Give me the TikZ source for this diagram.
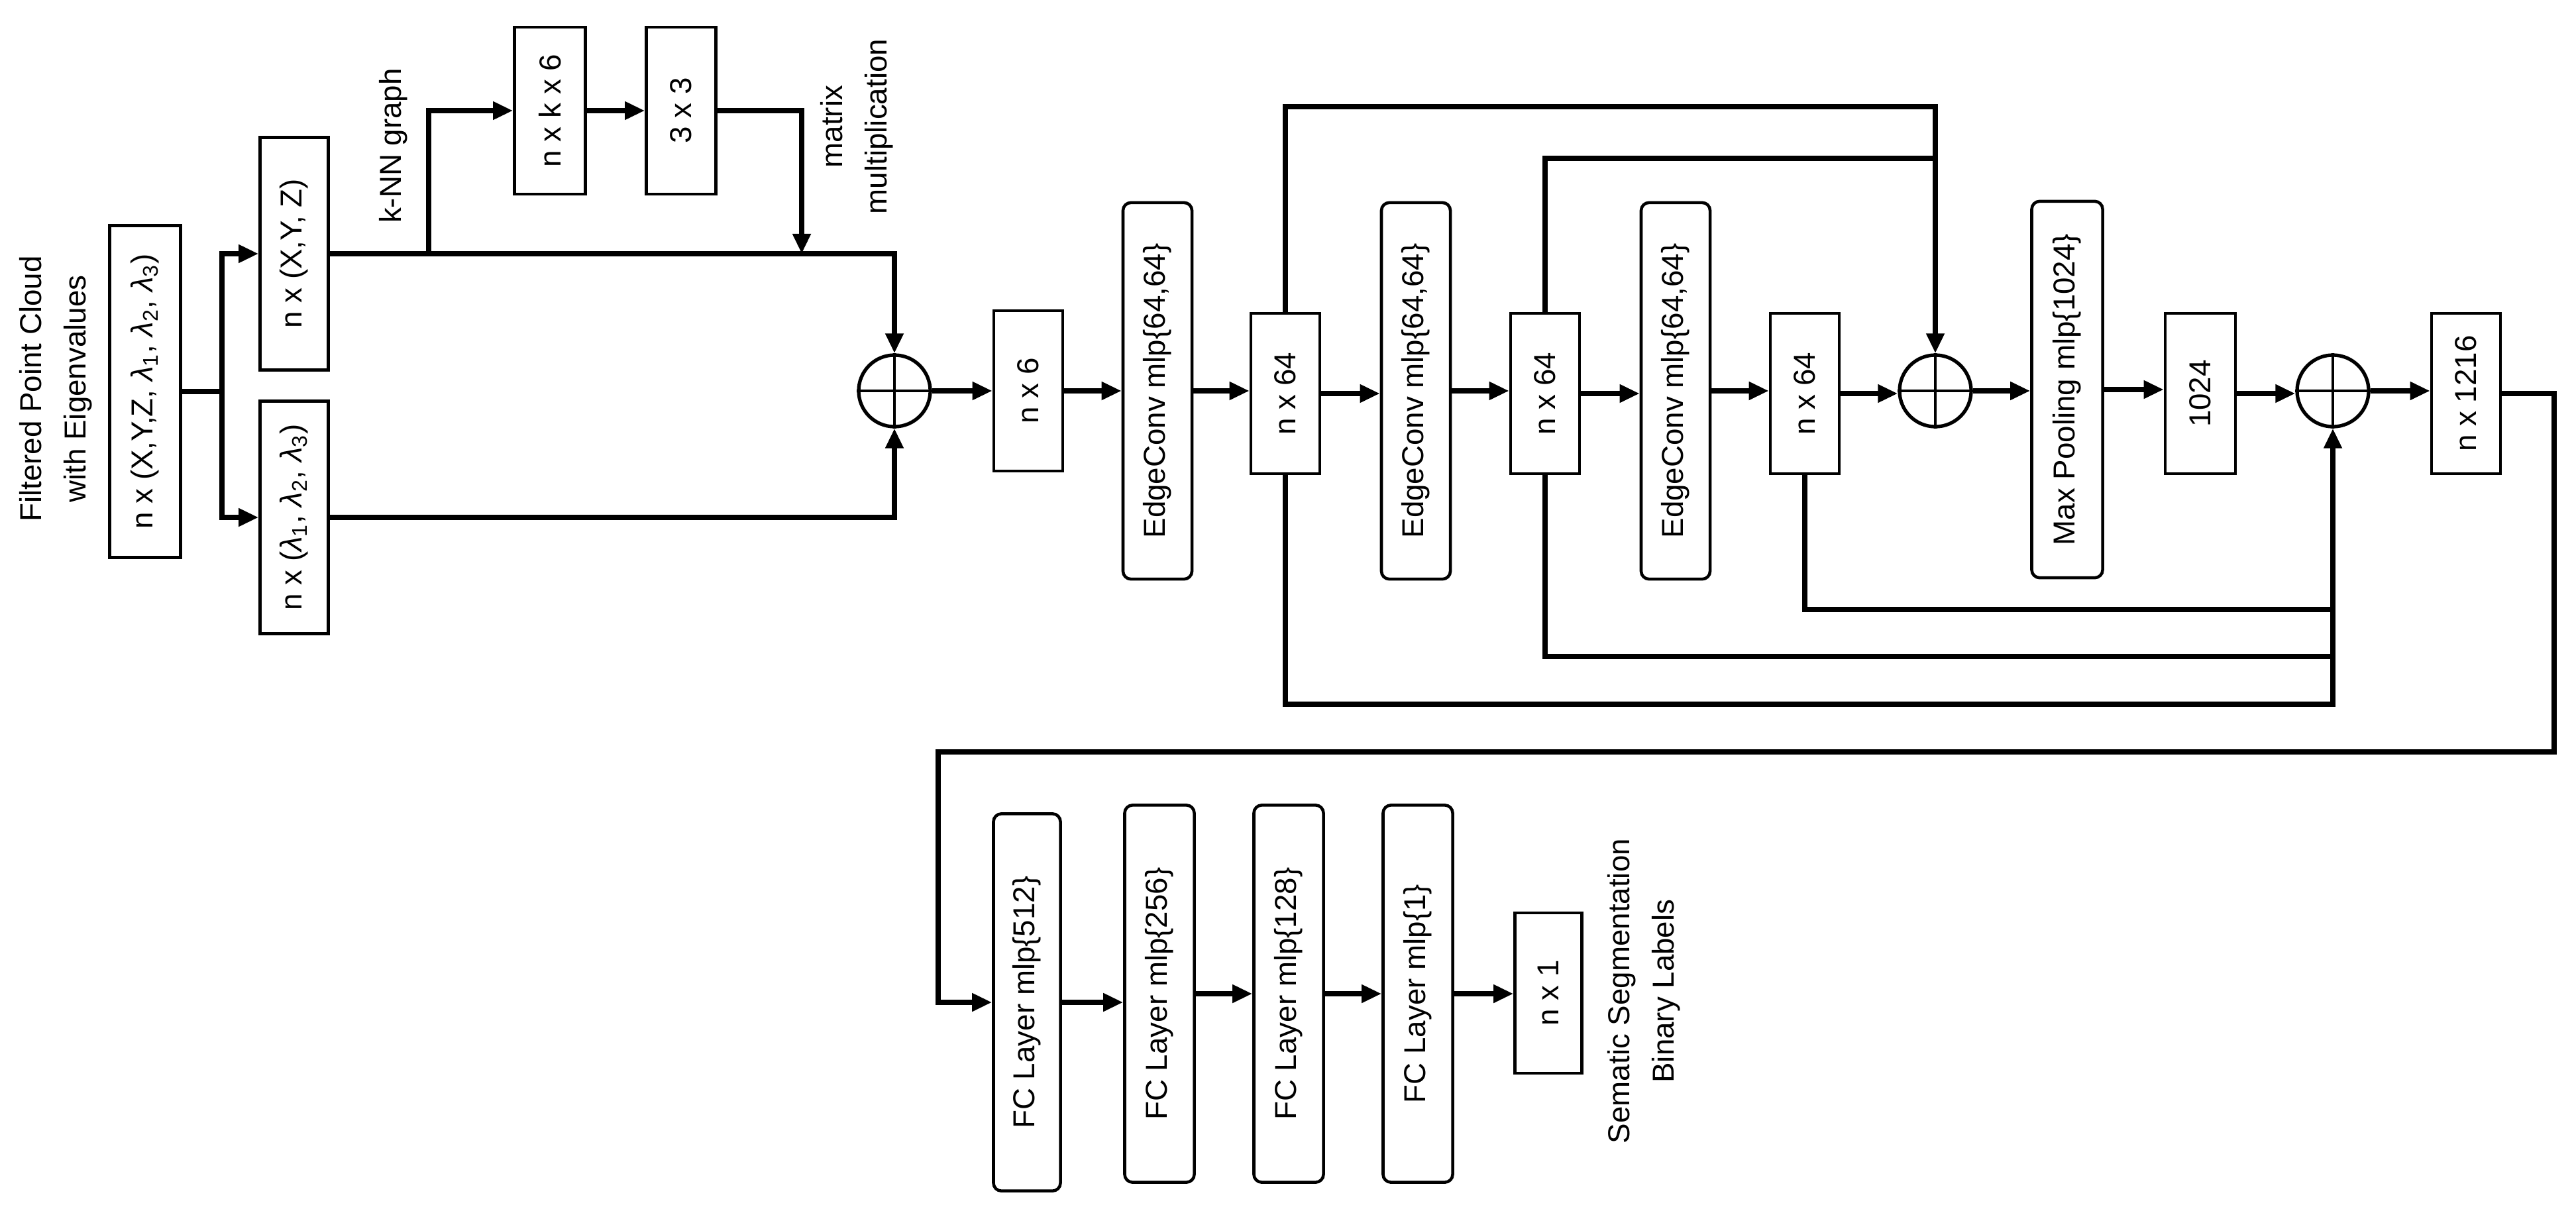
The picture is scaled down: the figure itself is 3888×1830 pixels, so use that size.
\documentclass[tikz,border=0pt]{standalone}
\usepackage{fontspec}
\setmainfont{Liberation Sans}
\usetikzlibrary{arrows.meta}
\newcommand{\fs}{\fontsize{13}{19}\selectfont}
\newcommand{\rt}[1]{\rotatebox{90}{#1}}
\newcommand{\rtt}[2]{\rotatebox{90}{\begin{tabular}{@{}c@{}}#1\\#2\end{tabular}}}
\newcommand{\lam}[1]{\textit{λ}\textsubscript{#1}}
\begin{document}
\begin{tikzpicture}[x=0.01cm,y=-0.01cm,
  box/.style={draw, line width=1.3pt, inner sep=0pt, font=\fs},
  rbox/.style={box, rounded corners=0.12cm},
  sq/.style={minimum width=1.04cm, minimum height=2.42cm},
  tall/.style={minimum width=1.04cm, minimum height=5.68cm},
  ln/.style={line width=2.4pt},
  arr/.style={ln, -{Triangle[length=0.3cm,width=0.26cm]}},
  plus/.style={draw, circle, minimum size=1.08cm, inner sep=0pt, line width=1.5pt},
  lab/.style={font=\fs, inner sep=0pt}]
\useasboundingbox (0,0) rectangle (3888,1830);
% nodes
\node[lab] (title) at (83,587) {\rtt{Filtered Point Cloud}{with Eigenvalues}};
\node[box, minimum width=1.07cm, minimum height=5.01cm] (in) at (219,591) {\rt{n x (X,Y,Z, \lam{1}, \lam{2}, \lam{3})}};
\node[box, minimum width=1.03cm, minimum height=3.51cm] (xyz) at (444,383) {\rt{n x (X,Y, Z)}};
\node[box, minimum width=1.03cm, minimum height=3.51cm] (lamb) at (444,781) {\rt{n x (\lam{1}, \lam{2}, \lam{3})}};
\node[box, minimum width=1.07cm, minimum height=2.52cm] (knn6) at (830,167) {\rt{n x k x 6}};
\node[box, minimum width=1.05cm, minimum height=2.52cm] (m33) at (1028,167) {\rt{3 x 3}};
\node[lab] (knnl) at (594,220) {\rt{k-NN graph}};
\node[lab] (mml) at (1292,191) {\rtt{matrix}{multiplication}};
\node[plus] (p1) at (1350,590) {};
\node[box, sq] (n6) at (1552,590) {\rt{n x 6}};
\node[rbox, tall] (ec1) at (1747,590) {\rt{EdgeConv mlp\{64,64\}}};
\node[box, sq] (a64) at (1940,594) {\rt{n x 64}};
\node[rbox, tall] (ec2) at (2137,590) {\rt{EdgeConv mlp\{64,64\}}};
\node[box, sq] (b64) at (2332,594) {\rt{n x 64}};
\node[rbox, tall] (ec3) at (2529,590) {\rt{EdgeConv mlp\{64,64\}}};
\node[box, sq] (c64) at (2724,594) {\rt{n x 64}};
\node[plus] (p2) at (2921,590) {};
\node[rbox, tall, minimum width=1.07cm] (mp) at (3120,588) {\rt{Max Pooling mlp\{1024\}}};
\node[box, sq, minimum width=1.06cm] (k1024) at (3321,594) {\rt{1024}};
\node[plus] (p3) at (3521,590) {};
\node[box, sq] (n1216) at (3722,594) {\rt{n x 1216}};
\node[rbox, tall, minimum height=5.69cm, minimum width=1.01cm] (fc1) at (1550,1513) {\rt{FC Layer mlp\{512\}}};
\node[rbox, tall, minimum height=5.69cm, minimum width=1.05cm] (fc2) at (1750,1500) {\rt{FC Layer mlp\{256\}}};
\node[rbox, tall, minimum height=5.69cm, minimum width=1.05cm] (fc3) at (1945,1500) {\rt{FC Layer mlp\{128\}}};
\node[rbox, tall, minimum height=5.69cm, minimum width=1.05cm] (fc4) at (2140,1500) {\rt{FC Layer mlp\{1\}}};
\node[box, sq, minimum width=1.01cm] (nx1) at (2337,1499) {\rt{n x 1}};
\node[lab] (outl) at (2480,1496) {\rtt{Sematic Segmentation}{Binary Labels}};
% plus signs
\foreach \p in {p1,p2,p3}{
  \draw[line width=1.2pt] (\p.north) -- (\p.south);
  \draw[line width=1.2pt] (\p.west) -- (\p.east);
}
% coordinates
\coordinate (sp) at (335,591);
\coordinate (kb) at (647,383);
\coordinate (mm) at (1210,383);
\coordinate (j1) at (2921,161);
\coordinate (j2) at (2921,239);
\coordinate (q1) at (3521,920);
\coordinate (q2) at (3521,991);
\coordinate (q3) at (3521,1063);
\coordinate (r1) at (3855,594);
\coordinate (r2) at (1416,1135);
% connectors
\draw[ln] (in.east) -- (sp);
\draw[arr] (sp) |- (xyz.west);
\draw[arr] (sp) |- (lamb.west);
\draw[arr] (xyz.east) -| (p1.north);
\draw[arr] (lamb.east) -| (p1.south);
\draw[arr] (kb) |- (knn6.west);
\draw[arr] (knn6.east) -- (m33.west);
\draw[arr] (m33.east) -| (mm);
\draw[arr] (p1.east) -- (n6.west);
\draw[arr] (n6.east) -- (ec1.west);
\draw[arr] (ec1.east) -- (ec1.east -| a64.west);
\draw[arr] (a64.east) -- (a64.east -| ec2.west);
\draw[arr] (ec2.east) -- (ec2.east -| b64.west);
\draw[arr] (b64.east) -- (b64.east -| ec3.west);
\draw[arr] (ec3.east) -- (ec3.east -| c64.west);
\draw[arr] (c64.east) -- (c64.east -| p2.west);
\draw[arr] (p2.east) -- (p2.east -| mp.west);
\draw[arr] (mp.east) -- (mp.east -| k1024.west);
\draw[arr] (k1024.east) -- (k1024.east -| p3.west);
\draw[arr] (p3.east) -- (p3.east -| n1216.west);
\draw[ln] (a64.north) |- (j1) -- (j2);
\draw[arr] (b64.north) |- (j2) -- (p2.north);
\draw[ln] (c64.south) |- (q1);
\draw[ln] (b64.south) |- (q2);
\draw[arr] (a64.south) |- (q3) -- (p3.south);
\draw[arr] (n1216.east) -- (r1) |- (r2) |- (fc1.west);
\draw[arr] (fc1.east) -- (fc1.east -| fc2.west);
\draw[arr] (fc2.east) -- (fc3.west);
\draw[arr] (fc3.east) -- (fc4.west);
\draw[arr] (fc4.east) -- (fc4.east -| nx1.west);
\end{tikzpicture}
\end{document}
